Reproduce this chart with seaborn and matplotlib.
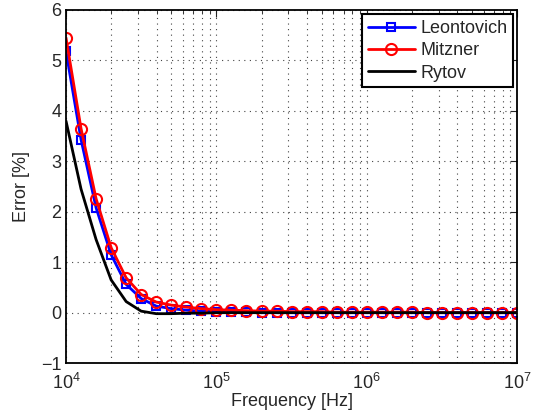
import numpy as np
import pandas as pd
import seaborn as sns
import matplotlib.pyplot as plt

# frequencies: 10 points per decade from 1e4 to 1e7
freq = 10 ** (4 + np.arange(31) / 10)

leontovich = [5.18, 3.43, 2.08, 1.15, 0.56, 0.28, 0.13, 0.08, 0.05, 0.03, 0.02,
              0.01, 0.01, 0.0, 0.0, 0.0, 0.0, 0.0, 0.0, 0.0, 0.0,
              0.0, 0.0, 0.0, 0.0, 0.0, 0.0, 0.0, 0.0, 0.0, 0.0]
mitzner = [5.45, 3.65, 2.26, 1.29, 0.69, 0.36, 0.21, 0.15, 0.11, 0.08, 0.06,
           0.05, 0.04, 0.03, 0.03, 0.02, 0.02, 0.02, 0.01, 0.01, 0.01,
           0.01, 0.01, 0.01, 0.0, 0.0, 0.0, 0.0, 0.0, 0.0, 0.0]
rytov = [3.8, 2.45, 1.45, 0.65, 0.22, 0.03, -0.02, -0.02, -0.01, -0.01, 0.0,
         0.0, 0.0, 0.0, 0.0, 0.0, 0.0, 0.0, 0.0, 0.0, 0.0,
         0.0, 0.0, 0.0, 0.0, 0.0, 0.0, 0.0, 0.0, 0.0, 0.0]

df = pd.DataFrame({'freq': freq, 'Leontovich': leontovich,
                   'Mitzner': mitzner, 'Rytov': rytov})

sns.set_style('white')
plt.rcParams['font.family'] = ['Liberation Sans', 'DejaVu Sans']
plt.rcParams['mathtext.fontset'] = 'custom'
plt.rcParams['mathtext.rm'] = 'Liberation Sans'
plt.rcParams['xtick.direction'] = 'in'
plt.rcParams['ytick.direction'] = 'in'

fig = plt.figure(figsize=(5.41, 4.15), dpi=100)
ax = fig.add_axes([0.122, 0.125, 0.834, 0.851])

sns.lineplot(data=df, x='freq', y='Leontovich', ax=ax, color='#0000ff', lw=2,
             marker='s', markersize=6, markerfacecolor='none',
             markeredgecolor='#0000ff', markeredgewidth=1.5, label='Leontovich')
sns.lineplot(data=df, x='freq', y='Mitzner', ax=ax, color='#ff0000', lw=2,
             marker='o', markersize=8, markerfacecolor='none',
             markeredgecolor='#ff0000', markeredgewidth=1.5, label='Mitzner')
sns.lineplot(data=df, x='freq', y='Rytov', ax=ax, color='black', lw=2,
             label='Rytov')

ax.set_xscale('log')
ax.set_xlim(1e4, 1e7)
ax.set_ylim(-1, 6)
ax.set_yticks(range(-1, 7))
ax.set_xlabel('Frequency [Hz]', fontsize=13, labelpad=0)
ax.set_ylabel('Error [%]', fontsize=13, labelpad=8)
ax.tick_params(which='both', top=True, right=True, labelsize=13)
ax.tick_params(axis='x', which='major', pad=7)
ax.tick_params(which='major', length=5)
ax.tick_params(which='minor', length=3)
ax.grid(True, which='both', ls=(0, (1, 4)), color='#444444', lw=0.8)
for s in ax.spines.values():
    s.set_color('black')
    s.set_linewidth(1.3)

leg = ax.legend(loc='upper right', fontsize=13, fancybox=False, framealpha=1,
                edgecolor='black', borderaxespad=0.25, handlelength=2.6,
                handletextpad=0.3, borderpad=0.3, labelspacing=0.3)
leg.get_frame().set_linewidth(1.5)

fig.savefig('out.png', dpi=100)
